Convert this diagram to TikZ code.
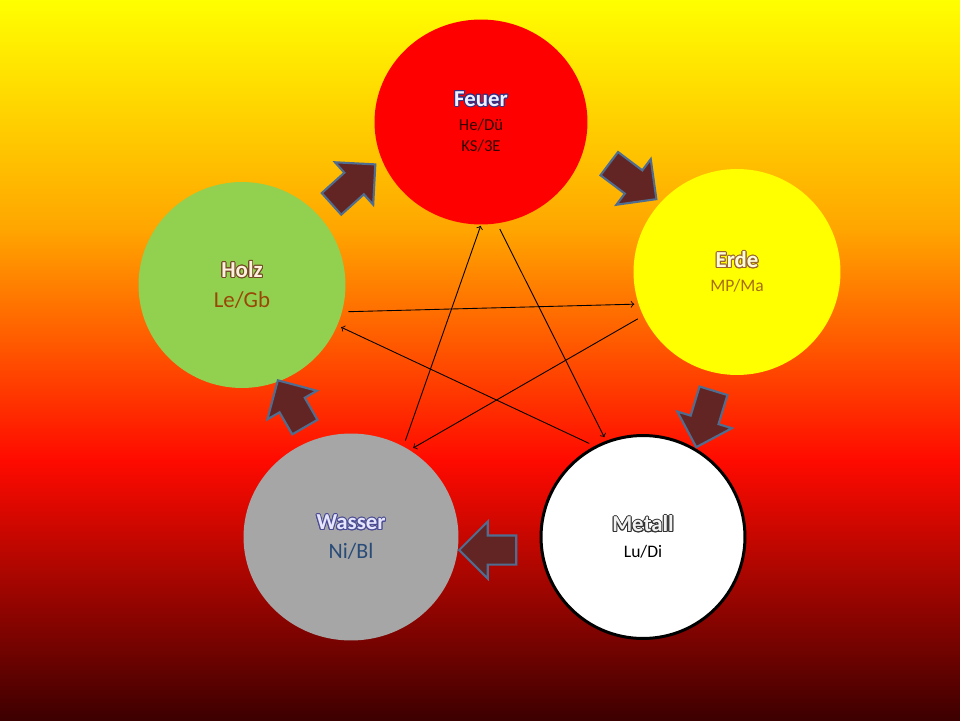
\documentclass[tikz,border=0pt]{standalone}
\usepackage{fontspec}
\setmainfont{Carlito}
\usepackage{contour}
\contourlength{0.55pt}
\usetikzlibrary{shapes.geometric,shapes.arrows}

\definecolor{feuerrot}{RGB}{255,0,0}
\definecolor{erdgelb}{RGB}{255,255,0}
\definecolor{holzgruen}{RGB}{146,208,80}
\definecolor{wassergrau}{RGB}{166,166,166}
\definecolor{pfeilbraun}{RGB}{99,37,35}
\definecolor{pfeilrand}{RGB}{79,109,145}
\definecolor{bga}{RGB}{255,255,0}
\definecolor{bgb}{RGB}{255,165,0}
\definecolor{bgc}{RGB}{255,95,0}
\definecolor{bgd}{RGB}{255,10,0}
\definecolor{bge}{RGB}{205,0,0}
\definecolor{bgf}{RGB}{60,0,0}

\newcommand{\titel}[3]{{\fontsize{13}{15}\selectfont\bfseries\textcolor{#2}{\contour{#1}{#3}}}}

\tikzset{
  element/.style={ellipse, minimum width=4.14cm, minimum height=4.12cm, inner sep=0pt, align=center},
  blockpfeil/.style={single arrow, fill=pfeilbraun, draw=pfeilrand, line width=1.2pt,
    inner xsep=0pt, inner ysep=0.27cm, single arrow head extend=0.28cm, minimum height=1.18cm},
  strahl/.style={->, black, line width=0.5pt, shorten >=0.08cm, shorten <=0.12cm}
}

\begin{document}
\begin{tikzpicture}[x=0.02cm, y=-0.02cm]
    \useasboundingbox (0,0) rectangle (960,720);

    % Background
    \shade[top color=bga, bottom color=bgb] (0,-1) rectangle (960,231);
    \shade[top color=bgb, middle color=bgc, bottom color=bgd] (0,230) rectangle (960,461);
    \shade[top color=bgd, middle color=bge, bottom color=bgf] (0,460) rectangle (960,721);

    % Draw the five elements
    \node[element, fill=feuerrot, minimum width=4.26cm, minimum height=4.1cm] (feuer) at (481,122)
        {\titel{blue!40!black!80}{blue!6!white}{Feuer}\\[2pt]
         {\fontsize{9.5}{11}\selectfont\color[RGB]{50,0,0}He/Dü}\\[0pt]
         {\fontsize{9.5}{11}\selectfont\color[RGB]{50,0,0}KS/3E}};
    \node[element, fill=erdgelb] (erde) at (737,272)
        {\titel{brown!80!black}{yellow!15!white}{Erde}\\[1.5pt]
         {\fontsize{10}{12}\selectfont\color[RGB]{165,110,15}MP/Ma}};
    \node[element, fill=white, draw=black, line width=1.7pt, minimum width=4.08cm, minimum height=4.06cm] (metall) at (643,537)
        {\titel{black!80}{black!5}{Metall}\\[2.5pt]
         {\fontsize{10}{12}\selectfont Lu/Di}};
    \node[element, fill=wassergrau, minimum width=4.3cm, minimum height=4.14cm] (wasser) at (351,537)
        {\titel{blue!40!black!70}{blue!10!white}{Wasser}\\[4pt]
         {\fontsize{12.5}{14}\selectfont\color[RGB]{40,75,120}Ni/Bl}};
    \node[element, fill=holzgruen] (holz) at (242,285)
        {\titel{brown!60!black}{orange!12!white}{Holz}\\[5pt]
         {\fontsize{13}{15}\selectfont\color[RGB]{152,72,6}Le/Gb}};

    % Draw the block arrows of the cycle
    \node[blockpfeil, rotate=42] (pfa) at (348,189) {};
    \node[blockpfeil, rotate=-37] (pfb) at (627,177) {};
    \node[blockpfeil, rotate=-107] (pfc) at (707,412) {};
    \node[blockpfeil, rotate=180, minimum height=1.14cm] (pfd) at (495,550) {};
    \node[blockpfeil, rotate=120, minimum height=1.08cm] (pfe) at (295,410) {};

    % Draw the star
    \draw[strahl] (holz.-15) -- (erde.198);
    \draw[strahl] (erde.205) -- (wasser.56);
    \draw[strahl, shorten >=0.02cm] (wasser.60) -- (feuer.-90);
    \draw[strahl] (feuer.-81) -- (metall.111);
    \draw[strahl] (metall.118) -- (holz.-23);
\end{tikzpicture}
\end{document}
